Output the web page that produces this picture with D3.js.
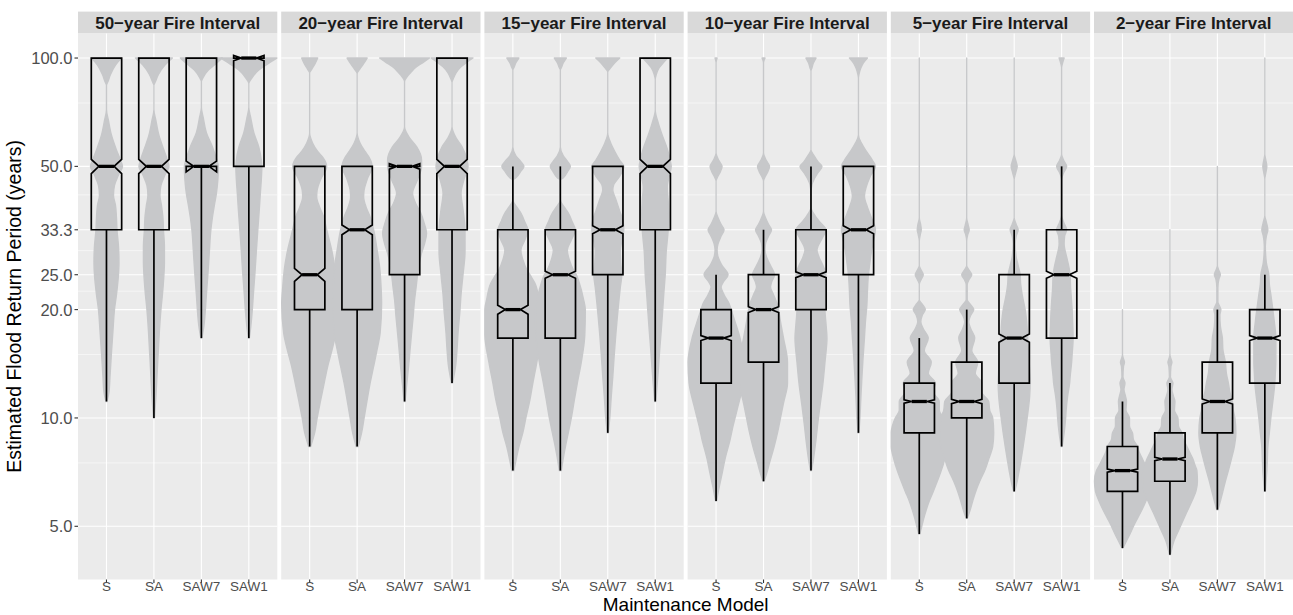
<!DOCTYPE html>
<html>
<head>
<meta charset="utf-8">
<script src="https://cdn.jsdelivr.net/npm/d3@7"></script>
<style>
  body { margin: 0; background: #ffffff; }
  text { font-family: "Liberation Sans", Arial, sans-serif; }
</style>
</head>
<body>
<svg id="chart" width="1293" height="615"></svg>
<script>
// ---------------- data ----------------
const models = ["S", "SA", "SAW7", "SAW1"];
const intervals = ["50\u2212year Fire Interval", "20\u2212year Fire Interval", "15\u2212year Fire Interval",
                   "10\u2212year Fire Interval", "5\u2212year Fire Interval", "2\u2212year Fire Interval"];
const yBreaks = [100, 50, 33.33, 25, 20, 10, 5];
const yTickLabels = ["100.0", "50.0", "33.3", "25.0", "20.0", "10.0", "5.0"];
const sampleSize = 2100; // runs per model, used for the notch width

// five-number summaries [lower whisker, Q1, median, Q3, upper whisker] in years, rows in model order
const box50 = [[11.11, 33.33, 50, 100, 100], [10, 33.33, 50, 100, 100], [16.67, 50, 50, 100, 100], [16.67, 50, 100, 100, 100]];
const box20 = [[8.33, 20, 25, 50, 50], [8.33, 20, 33.33, 50, 50], [11.11, 25, 50, 50, 50], [12.5, 33.33, 50, 100, 100]];
const box15 = [[7.14, 16.67, 20, 33.33, 50], [7.14, 16.67, 25, 33.33, 50], [9.09, 25, 33.33, 50, 50], [11.11, 33.33, 50, 100, 100]];
const box10 = [[5.88, 12.5, 16.67, 20, 25], [6.67, 14.29, 20, 25, 33.33], [7.14, 20, 25, 33.33, 50], [9.09, 25, 33.33, 50, 50]];
const box5  = [[4.76, 9.09, 11.11, 12.5, 16.67], [5.26, 10, 11.11, 14.29, 20], [6.25, 12.5, 16.67, 25, 33.33], [8.33, 16.67, 25, 33.33, 50]];
const box2  = [[4.35, 6.25, 7.14, 8.33, 11.11], [4.17, 6.67, 7.69, 9.09, 12.5], [5.56, 9.09, 11.11, 14.29, 20], [6.25, 12.5, 16.67, 20, 25]];

// violin outlines: [return period (years), relative density], rows in model order
const violin50 = [
  [[100,15],[95.6,9],[90,4],[86,1.5],[84,0],[72,0],[67,2],[61,5],[55.5,10],[52,14],[50,16],[47.3,12],[44.3,8],[41.6,7],[39,9],[36,10],[33.33,10.5],[30,12],[27,12.5],[25,12],[22,10],[20,8],[17.5,6.5],[15.2,5],[13,3.5],[11.8,2.5],[11.11,0.5]],
  [[100,18.5],[95.6,11],[90,4.5],[86,1.5],[84,0],[72,0],[67,2],[61,5],[55.5,10],[52,13.5],[50,15],[47.3,11],[44.3,7],[41.6,6],[39,7.5],[36,9],[33.33,9.5],[30,10.5],[27,10.5],[25,10],[22,8.5],[20,7],[17.5,5.5],[15.2,4.3],[13,3],[11.5,2],[10,0.5]],
  [[100,21],[95.6,13],[92.6,7],[88,1.5],[86,0],[73,0],[68,2],[62,5],[56.7,11],[52,15.5],[50,17],[46,16.5],[42,15],[39,13],[36,11],[33.33,9.5],[29,8],[25,6.5],[22,5],[20,4],[18,2.5],[16.67,0.5]],
  [[100,28],[95.6,17],[92.6,10],[88,3],[85,0],[73,0],[68,2],[62,5],[56.5,10],[52,12.5],[50,13],[46,12.5],[42,11.5],[38,10.5],[33.33,9],[29,7.5],[25,6],[22,4.5],[20,3.5],[18,2],[16.67,0.5]]
];
const violin20 = [
  [[100,8],[96,5],[93,2],[91,0],[62,0],[58,3],[55,8],[53,13],[50,17],[46,11],[43,7.5],[41.2,7],[38.5,10],[36.2,14],[33.33,17],[29.3,22],[26.3,25],[23,27],[20.8,28],[17.2,26],[15.5,22.5],[13.9,18],[12.5,14.5],[11.2,11],[10,7.5],[9.1,5],[8.33,1]],
  [[100,10],[96,6],[93,2.5],[90.5,0],[62,0],[58,3],[55,8],[53,12],[50,15],[46,10],[43,7],[41.2,6.5],[38.5,9],[36.2,13],[33.33,16.5],[29.3,20],[26.3,22.5],[23,24],[20.8,24.5],[17.2,23],[15.5,20],[13.9,16.5],[12.5,13],[11.2,10],[10,7],[9.1,4.5],[8.33,1]],
  [[100,25],[97,18],[94.6,12],[91,6],[88.7,2.5],[86,0],[64.4,0],[60,5],[56.7,12],[52.1,17],[50,17],[46,13],[42.1,8],[39.5,11],[37.2,16],[34.5,20],[32.6,22],[30.5,20],[28.7,17],[25,13],[23,11.5],[21.3,10],[19,8.5],[17.2,7],[15.5,5.5],[13.9,4],[12.3,2],[11.11,0.5]],
  [[100,21],[97,14],[94.6,9],[91,4],[88,1.5],[85.5,0],[64.4,0],[60,4],[56.7,10],[52.1,15],[50,16],[46,12],[42.1,9],[38,11],[35,12.5],[33.33,13],[29,13],[25,11],[22,9],[20,8],[17.2,6],[15.5,5],[13.9,3.5],[12.5,0.5]]
];
const violin15 = [
  [[100,6],[97,3],[94,1],[92.6,0],[56.6,0],[53.5,3],[51.5,8],[50,11],[48.5,8],[46.5,3],[45.8,0],[40.3,0],[38.5,4],[37.1,8],[35,12],[33.33,15],[31.2,12],[29.3,8],[27.5,10],[25.8,14],[25,17],[23.7,22],[21.5,26],[20,28],[17,28],[14.3,24],[12.5,20],[11.2,17],[10,13],[9.1,10],[8.3,6],[7.6,3],[7.14,1]],
  [[100,6],[97,3],[94,1],[92.6,0],[56.6,0],[53.5,3],[51.5,7.5],[50,10],[48.5,7.5],[46.5,3],[45.8,0],[40.3,0],[38.5,4],[37.1,8],[35,12],[33.33,15],[31.2,11],[29.3,7],[27.5,9],[25.8,13],[25,16],[23.7,19],[21.5,23],[20,25],[17,24.5],[14.3,21],[12.5,17],[11.2,14],[10,11],[9.1,8],[8.3,5],[7.6,2.5],[7.14,1]],
  [[100,12],[97,7],[94,3],[91.4,0],[61.9,0],[58,3],[55,7],[52,12],[50,16],[47,12],[44.5,6],[43,5],[40.5,8],[37.5,12],[35.5,15],[33.33,16],[31,14],[29,12.5],[27,13],[25,14],[23,12.5],[21,11],[19,9.5],[17,8],[15,6.5],[13,5],[11.5,3.5],[10,2],[9.09,0.5]],
  [[100,12.5],[97,8],[94,4],[90,1],[87,0],[71.7,0],[66,3],[61,7],[56,12],[52,15],[50,16],[47,14],[43.8,12],[40,13],[36.5,13.5],[33.33,13],[29,11],[25,10],[22,8.5],[20,7.5],[17.5,6],[15.5,4.5],[13.5,3],[12,1.5],[11.11,0.5]]
];
const violin10 = [
  [[100,1],[97,0],[54.5,0],[52.4,2],[51,4.5],[50,6],[48.5,4.5],[47,2],[45.5,0],[37.5,0],[36,2],[34.5,5],[33.33,8],[32,5],[30.5,2],[29.3,1],[28,2],[26.5,6],[25,12],[23.8,7],[23.1,5],[22,8],[20.8,13],[20,15],[18.5,19],[16.67,24],[14.29,28],[12.5,27],[10.8,22],[9.5,17],[8.7,14],[7.7,9],[7,6],[6.4,3],[5.88,0.5]],
  [[100,1.5],[97,0],[54.5,0],[52.4,2],[51,4.5],[50,6],[48.5,4.5],[47,2],[45.5,0],[37.5,0],[36,2],[34.5,5],[33.33,8],[32,5],[30.5,2],[29.3,1.5],[28,3],[26.5,7],[25,11],[23.8,8],[23.1,7],[22,10],[20.8,13.5],[20,15],[18.5,17],[16.67,20],[14.29,24],[12.5,24],[11,20],[10,17],[9.1,14],[8.3,10.5],[7.5,6],[7,3],[6.67,0.5]],
  [[100,5],[97,2.5],[94,1],[92,0],[55.5,0],[53.6,3],[51.5,7],[50,11],[48,7],[46,3],[44.5,1],[42,0],[38.5,0],[36.5,4],[35,9],[33.33,15],[31.5,11],[30,7],[29.3,6],[28,8],[26.5,12],[25,15],[23.5,14],[22,14],[20,14],[18.3,15],[16.67,16],[14.29,14],[12.5,12],[10.8,9],[9.5,6.5],[8.7,5],[7.7,2.5],[7.14,0.5]],
  [[100,9],[97,5],[94,2.5],[90,0.5],[88,0],[61.1,0],[58,3],[55,8],[52,14],[50,17],[47,12],[44,8],[41.4,6],[38.5,9],[36,13],[33.33,17],[31,15],[29,13],[27,11.5],[25,10],[22.5,9],[20.7,8.5],[18.5,7],[16.67,6],[14.5,4.5],[13,3.5],[11.5,2.5],[10,1.5],[9.09,0.5]]
];
const violin5 = [
  [[100,0],[36,0],[34.3,1.5],[33.33,2],[32.3,1],[31,0],[26.5,0],[25.7,2],[25,4],[24.3,2],[23.5,0],[21.3,0],[20.7,3],[20,6],[19.3,3],[18.5,1.5],[17.7,4],[16.67,9],[15.4,5],[14.29,12],[13.3,9],[12.5,16],[11.8,14],[11.11,20],[10.5,20],[10,24],[9.09,28],[8.33,28],[7.69,25.5],[7.14,22],[6.67,18],[6.25,14],[5.88,10],[5.56,7],[5.26,4.5],[5,2.5],[4.76,0.5]],
  [[100,0],[36,0],[34.3,1.5],[33.33,2.5],[32.3,1],[31,0],[26.5,0],[25.7,2.5],[25,5],[24.3,2.5],[23.5,0.5],[21.3,0.5],[20.7,3.5],[20,7],[19.3,4],[18.5,2],[17.7,4],[16.67,8],[15.4,5],[14.29,11],[13.3,8.5],[12.5,15],[11.8,15],[11.11,22],[10.5,23],[10,26],[9.09,27],[8.33,26],[7.69,22],[7.14,18],[6.67,13],[6.25,9],[5.88,6],[5.56,3.5],[5.26,0.5]],
  [[100,0],[54,0],[52,1.5],[50,3],[48,1.5],[46,0],[36,0],[34.5,2],[33.33,4],[32,2],[30.5,1],[28,2],[26.5,4],[25,6],[23.5,6.5],[22,8],[20,11],[18.5,12.5],[16.67,13.5],[15,14.5],[13.5,15.5],[12.5,16],[11.5,15.5],[10.5,14],[10,13],[9.09,11],[8.33,9],[7.69,7],[7.14,5],[6.67,3],[6.25,0.5]],
  [[100,2.5],[97,1],[94,0],[54,0],[52,2],[50,5],[48,2],[46,0],[36.5,0],[35,2],[33.33,5],[32,3],[30.5,2.5],[28,5],[26.5,7],[25,8.5],[23,9],[21,10],[20,10.5],[18.5,11],[16.67,11.5],[15,10.5],[14.29,10],[13,8.5],[12.5,8],[11.5,6],[10.5,4.5],[10,4],[9.09,2.5],[8.33,0.5]]
];
const violin2 = [
  [[20,0],[15,0],[14.6,1],[14.29,2],[13.9,1],[13,0.5],[12.5,2.5],[12,1.5],[11.5,3],[11.11,4],[10.5,3.5],[10,7],[9.5,7],[9.09,10],[8.7,11],[8.33,15],[8,17],[7.69,20],[7.4,23],[7.14,26],[6.67,28],[6.25,27],[5.88,23.5],[5.56,19.5],[5.26,15],[5,11],[4.76,7.5],[4.55,4],[4.35,0.5]],
  [[33.33,0],[15,0],[14.6,1],[14.29,2],[13.9,1],[13,0.5],[12.5,3],[12,2],[11.5,3.5],[11.11,5],[10.5,4.5],[10,8],[9.5,8.5],[9.09,12],[8.7,13.5],[8.33,17],[8,20],[7.69,23],[7.4,25],[7.14,27],[6.67,27.5],[6.25,26],[5.88,22],[5.56,18],[5.26,14],[5,10.5],[4.76,7],[4.55,4],[4.35,2],[4.17,0.5]],
  [[50,0],[26.5,0],[25.7,1.5],[25,3],[24.3,1.5],[23,0.5],[21,0.5],[20.5,2],[20,3.5],[19.3,2.5],[18,3],[16.67,5],[15.5,5.5],[14.29,8],[13.3,9],[12.5,11],[11.8,12.5],[11.11,15],[10.5,16],[10,17.5],[9.09,18.5],[8.33,17],[7.69,14],[7.14,11],[6.67,8],[6.25,5.5],[5.88,3],[5.56,0.5]],
  [[100,0],[54,0],[52,1],[50,2],[48,1],[46,0],[36.5,0],[35,1.5],[33.33,3],[32,1.5],[30,0.5],[27,1.5],[25,4],[23.5,4.5],[22,6],[20,8],[18.5,9.5],[16.67,11],[15.4,11],[14.29,11],[13.3,10.5],[12.5,10],[11.11,8],[10,6],[9.09,4.5],[8.33,3],[7.69,2.5],[7.14,2],[6.67,1.2],[6.25,0.5]]
];

const boxSets = [box50, box20, box15, box10, box5, box2];
const violinSets = [violin50, violin20, violin15, violin10, violin5, violin2];

// ---------------- layout ----------------
const svg = d3.select("#chart");
const panelLeft = 78, panelW = 199.3, panelGap = 3.9;
const plotTop = 33.2, plotBottom = 579.5, stripTop = 11.6;
const violinFill = "#c7c8ca";

// log-scaled return period with a 5% pad on both ends
const lowest = d3.min(boxSets.flat(), b => b[0]);
const highest = d3.max(boxSets.flat(), b => b[4]);
const lLo = Math.log10(lowest), lHi = Math.log10(highest), pad = 0.05 * (lHi - lLo);
const y = d3.scaleLog()
  .domain([Math.pow(10, lLo - pad), Math.pow(10, lHi + pad)])
  .range([plotBottom, plotTop]);

const x = d3.scalePoint().domain(models).range([0, panelW]).padding(0.6);
const densityMax = 28.5;
const halfWidth = d3.scaleLinear().domain([0, densityMax]).range([0, 0.6 * x.step()]);
const boxW = 0.64 * x.step();

const sortedBreaks = yBreaks.slice().sort((a, b) => a - b);
const minorBreaks = d3.pairs(sortedBreaks).map(([a, b]) => (a + b) / 2);

intervals.forEach((title, i) => {
  const g = svg.append("g").attr("transform", `translate(${panelLeft + i * (panelW + panelGap)},0)`);

  g.append("rect").attr("x", 0).attr("y", plotTop).attr("width", panelW)
    .attr("height", plotBottom - plotTop).attr("fill", "#ebebeb");

  g.selectAll("line.minor").data(minorBreaks).join("line")
    .attr("x1", 0).attr("x2", panelW)
    .attr("y1", d => y(d)).attr("y2", d => y(d))
    .attr("stroke", "#ffffff").attr("stroke-width", 0.55);
  g.selectAll("line.major").data(yBreaks).join("line")
    .attr("x1", 0).attr("x2", panelW)
    .attr("y1", d => y(d)).attr("y2", d => y(d))
    .attr("stroke", "#ffffff").attr("stroke-width", 1.1);
  g.selectAll("line.vmajor").data(models).join("line")
    .attr("x1", d => x(d)).attr("x2", d => x(d))
    .attr("y1", plotTop).attr("y2", plotBottom)
    .attr("stroke", "#ffffff").attr("stroke-width", 1.1);

  // violins
  violinSets[i].forEach((profile, j) => {
    const cx = x(models[j]);
    const area = d3.area()
      .y(d => y(d[0]))
      .x0(d => cx - halfWidth(d[1]))
      .x1(d => cx + halfWidth(d[1]))
      .curve(d3.curveMonotoneY);
    g.append("path").attr("d", area(profile))
      .attr("fill", violinFill).attr("stroke", violinFill)
      .attr("stroke-width", 1.4).attr("stroke-linejoin", "round");
  });

  // notched boxplots
  boxSets[i].forEach((b, j) => {
    const [lo, q1, med, q3, hi] = b;
    const cx = x(models[j]);
    const x0 = cx - boxW / 2, x1 = cx + boxW / 2, inset = boxW * 0.25;
    const notch = 1.58 * (q3 - q1) / Math.sqrt(sampleSize);
    const nLo = med - notch, nHi = med + notch;

    g.append("line").attr("x1", cx).attr("x2", cx).attr("y1", y(q3)).attr("y2", y(hi))
      .attr("stroke", "#000").attr("stroke-width", 1.7);
    g.append("line").attr("x1", cx).attr("x2", cx).attr("y1", y(q1)).attr("y2", y(lo))
      .attr("stroke", "#000").attr("stroke-width", 1.7);

    const pts = [[x0, q1], [x0, nLo], [x0 + inset, med], [x0, nHi], [x0, q3],
                 [x1, q3], [x1, nHi], [x1 - inset, med], [x1, nLo], [x1, q1]];
    g.append("path")
      .attr("d", d3.line().x(d => d[0]).y(d => y(d[1]))(pts) + "Z")
      .attr("fill", "none").attr("stroke", "#000").attr("stroke-width", 1.7)
      .attr("stroke-linejoin", "miter");
    g.append("line").attr("x1", x0 + inset).attr("x2", x1 - inset)
      .attr("y1", y(med)).attr("y2", y(med))
      .attr("stroke", "#000").attr("stroke-width", 3.3);
  });

  // facet strip
  g.append("rect").attr("x", 0).attr("y", stripTop).attr("width", panelW)
    .attr("height", plotTop - stripTop).attr("fill", "#d9d9d9");
  g.append("text").attr("x", panelW / 2).attr("y", (stripTop + plotTop) / 2)
    .attr("dy", "0.36em").attr("text-anchor", "middle")
    .attr("font-size", 17).attr("font-weight", "bold").attr("fill", "#1a1a1a")
    .text(title);

  // x axis ticks and labels
  g.selectAll("line.xt").data(models).join("line")
    .attr("x1", d => x(d)).attr("x2", d => x(d))
    .attr("y1", plotBottom).attr("y2", plotBottom + 3.5)
    .attr("stroke", "#333333").attr("stroke-width", 1.1);
  g.selectAll("text.xl").data(models).join("text")
    .attr("x", d => x(d)).attr("y", plotBottom + 11.5)
    .attr("text-anchor", "middle").attr("font-size", 13.5).attr("fill", "#4d4d4d")
    .text(d => d);
});

// y axis on the first panel
const ya = svg.append("g");
ya.selectAll("line").data(yBreaks).join("line")
  .attr("x1", panelLeft - 3.5).attr("x2", panelLeft)
  .attr("y1", d => y(d)).attr("y2", d => y(d))
  .attr("stroke", "#333333").attr("stroke-width", 1.1);
ya.selectAll("text").data(yBreaks).join("text")
  .attr("x", panelLeft - 5.5).attr("y", d => y(d)).attr("dy", "0.36em")
  .attr("text-anchor", "end").attr("font-size", 16.5).attr("fill", "#4d4d4d")
  .text((d, i) => yTickLabels[i]);

// axis titles
svg.append("text")
  .attr("transform", `translate(20.5,${(plotTop + plotBottom) / 2}) rotate(-90)`)
  .attr("text-anchor", "middle").attr("font-size", 19.5).attr("fill", "#000")
  .text("Estimated Flood Return Period (years)");
svg.append("text")
  .attr("x", panelLeft + (6 * panelW + 5 * panelGap) / 2).attr("y", 610.5)
  .attr("text-anchor", "middle").attr("font-size", 19).attr("fill", "#000")
  .text("Maintenance Model");
</script>
</body>
</html>
